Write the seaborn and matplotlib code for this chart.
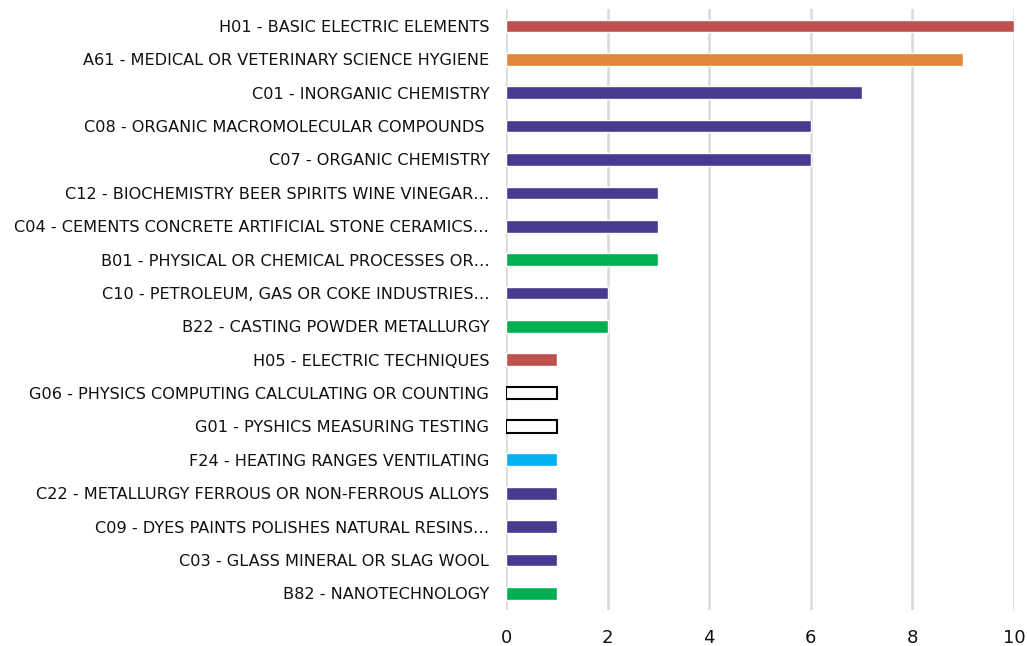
import matplotlib
matplotlib.use("Agg")
import matplotlib.pyplot as plt
import seaborn as sns

labels = [
    "H01 - BASIC ELECTRIC ELEMENTS",
    "A61 - MEDICAL OR VETERINARY SCIENCE HYGIENE",
    "C01 - INORGANIC CHEMISTRY",
    "C08 - ORGANIC MACROMOLECULAR COMPOUNDS ",
    "C07 - ORGANIC CHEMISTRY",
    "C12 - BIOCHEMISTRY BEER SPIRITS WINE VINEGAR…",
    "C04 - CEMENTS CONCRETE ARTIFICIAL STONE CERAMICS…",
    "B01 - PHYSICAL OR CHEMICAL PROCESSES OR…",
    "C10 - PETROLEUM, GAS OR COKE INDUSTRIES…",
    "B22 - CASTING POWDER METALLURGY",
    "H05 - ELECTRIC TECHNIQUES",
    "G06 - PHYSICS COMPUTING CALCULATING OR COUNTING",
    "G01 - PYSHICS MEASURING TESTING",
    "F24 - HEATING RANGES VENTILATING",
    "C22 - METALLURGY FERROUS OR NON-FERROUS ALLOYS",
    "C09 - DYES PAINTS POLISHES NATURAL RESINS…",
    "C03 - GLASS MINERAL OR SLAG WOOL",
    "B82 - NANOTECHNOLOGY",
]
counts = [10, 9, 7, 6, 6, 3, 3, 3, 2, 2, 1, 1, 1, 1, 1, 1, 1, 1]
# section letter decides the colour
sections = [s[0] for s in labels]
section_colors = {
    "H": "#C0504D",
    "A": "#E0873A",
    "C": "#473A8F",
    "B": "#00B050",
    "G": "#FFFFFF",
    "F": "#00B0F0",
}

sns.set_style("white")
plt.rcParams["font.family"] = ["DejaVu Sans"]

fig = plt.figure(figsize=(10.27, 6.46), dpi=100)
ax = fig.add_axes([0.4927, 0.0557, 0.4946, 0.9299])

palette = {lab: section_colors[sec] for lab, sec in zip(labels, sections)}
sns.barplot(x=counts, y=labels, hue=labels, palette=palette, legend=False,
            width=0.38, saturation=1, ax=ax, order=labels)

for patch, sec in zip(ax.patches, sections):
    if sec == "G":
        patch.set_edgecolor("black")
        patch.set_linewidth(1.5)

ax.set_xlim(0, 10)
ax.set_xticks(range(0, 11, 2))
ax.grid(axis="x", color="#D9D9D9", linewidth=1.8)
ax.set_axisbelow(True)
for s in ax.spines.values():
    s.set_visible(False)
ax.tick_params(axis="y", labelsize=11.6, length=0, pad=12, colors="#111111")
ax.tick_params(axis="x", labelsize=13, length=0, pad=14, colors="#111111")
ax.set_xlabel("")
ax.set_ylabel("")

fig.savefig("out.png", dpi=100)
